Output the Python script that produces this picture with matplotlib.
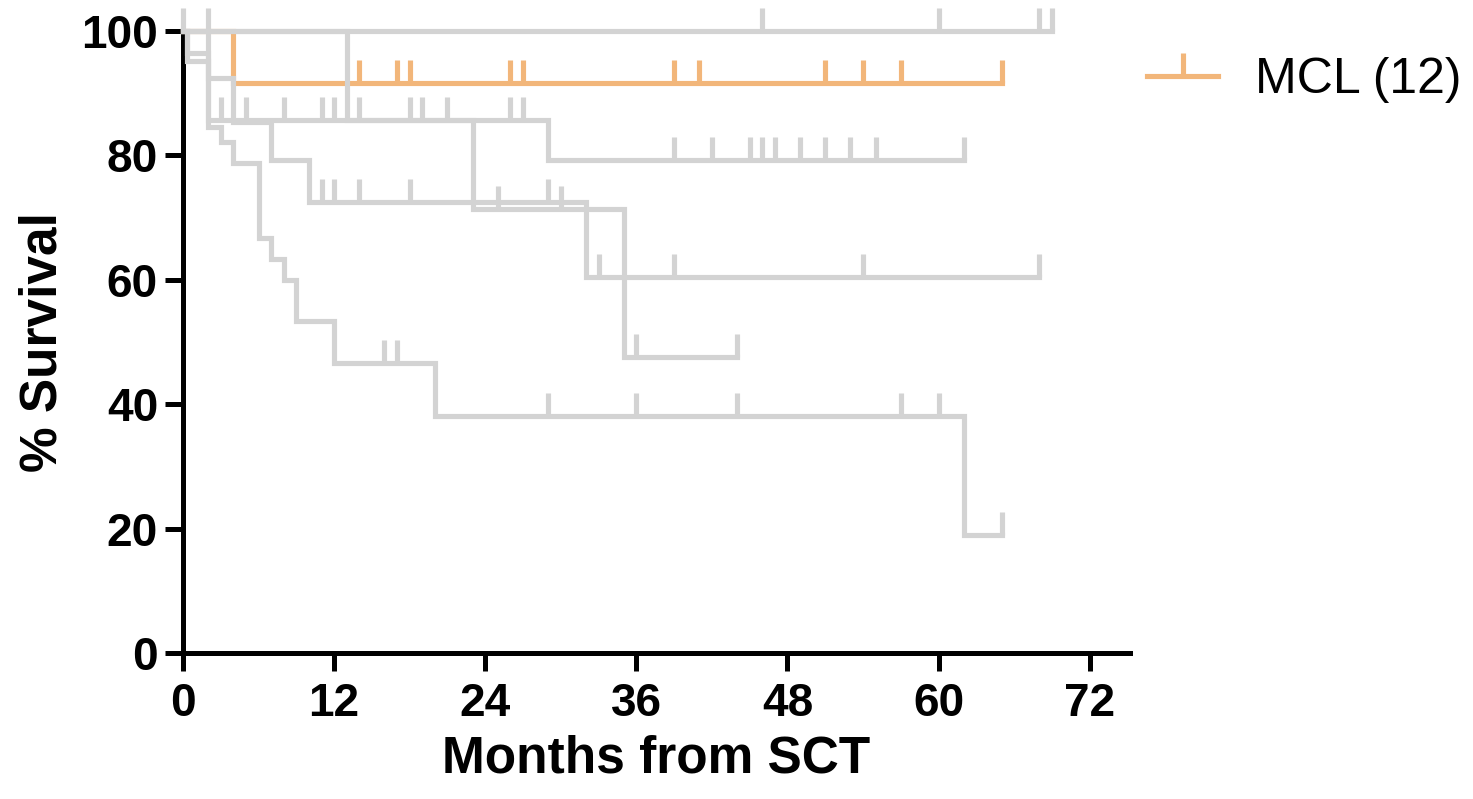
import numpy as np
import matplotlib.pyplot as plt
from matplotlib.lines import Line2D

plt.rcParams['font.family'] = ['Liberation Sans', 'DejaVu Sans']

# MCL (highlighted, orange)
mcl_t = [0, 4, 65]
mcl_s = [100, 91.67, 91.67]
mcl_cens = [14, 17, 18, 26, 27, 39, 41, 51, 54, 57, 65]

# other groups (grey)
g1_t = [0, 69]
g1_s = [100, 100]
g1_cens = [0, 2, 46, 60, 68, 69]

g2_t = [0, 13, 23, 35, 44]
g2_s = [100, 85.7, 71.4, 47.6, 47.6]
g2_cens = [25, 30, 36, 44]

g3_t = [0, 0.3, 2, 29, 62]
g3_s = [100, 96.4, 85.7, 79.3, 79.3]
g3_cens = [3, 5, 8, 11, 12, 14, 18, 19, 21, 26, 27,
           39, 42, 45, 46, 47, 49, 51, 53, 55, 62]

g4_t = [0, 2, 4, 7, 10, 32, 68]
g4_s = [100, 92.5, 85.4, 79.3, 72.5, 60.4, 60.4]
g4_cens = [11, 12, 14, 18, 29, 33, 39, 54, 68]

g5_t = [0, 0.3, 2, 3, 4, 6, 7, 8, 9, 12, 20, 62, 65]
g5_s = [100, 95.2, 84.6, 82.2, 78.8, 66.75, 63.4, 60.0, 53.3, 46.6, 38.05, 19.0, 19.0]
g5_cens = [16, 17, 29, 36, 44, 57, 60, 65]

orange = '#F2B67A'
grey = '#D3D3D3'
lw = 3.7

fig = plt.figure(figsize=(14.73, 7.99), dpi=100)
ax = fig.add_axes([183 / 1473, 1 - 653 / 799, (1130 - 183) / 1473, (653 - 31) / 799])


def km(t, s, cens, color, z):
    ax.step(t, s, where='post', color=color, lw=lw, clip_on=False, zorder=z,
            solid_joinstyle='miter')
    idx = np.searchsorted(t, cens, side='right') - 1
    ax.plot(cens, np.array(s)[idx], ls='none', marker=2, ms=16.5, mew=lw,
            color=color, clip_on=False, zorder=z)


km(mcl_t, mcl_s, mcl_cens, orange, 3)
for t, s, c in [(g1_t, g1_s, g1_cens), (g2_t, g2_s, g2_cens), (g3_t, g3_s, g3_cens),
                (g4_t, g4_s, g4_cens), (g5_t, g5_s, g5_cens)]:
    km(t, s, c, grey, 4)

ax.set_xlim(0, 75.2)
ax.set_ylim(0, 100)
ax.set_xticks(range(0, 73, 12))
ax.set_yticks(range(0, 101, 20))
for sp in ['top', 'right']:
    ax.spines[sp].set_visible(False)
for sp in ['left', 'bottom']:
    ax.spines[sp].set_linewidth(3.6)
ax.tick_params(width=3.6, length=13, labelsize=33)
ax.tick_params(axis='x', pad=8)
ax.tick_params(axis='y', pad=5)
for lab in ax.get_xticklabels() + ax.get_yticklabels():
    lab.set_fontweight('bold')

ax.set_xlabel('Months from SCT', fontsize=37, fontweight='bold', labelpad=6)
ax.set_ylabel('% Survival', fontsize=37, fontweight='bold', labelpad=10)

h = Line2D([], [], color=orange, lw=lw, marker=2, ms=16.5, mew=lw)
fig.legend(handles=[h], labels=['MCL (12)'], loc='center left',
           bbox_to_anchor=(1147 / 1473, 1 - 80 / 799), frameon=False,
           fontsize=36, handlelength=1.42, handletextpad=0.74, numpoints=1,
           borderpad=0, borderaxespad=0)

fig.savefig('out.png', dpi=100)
